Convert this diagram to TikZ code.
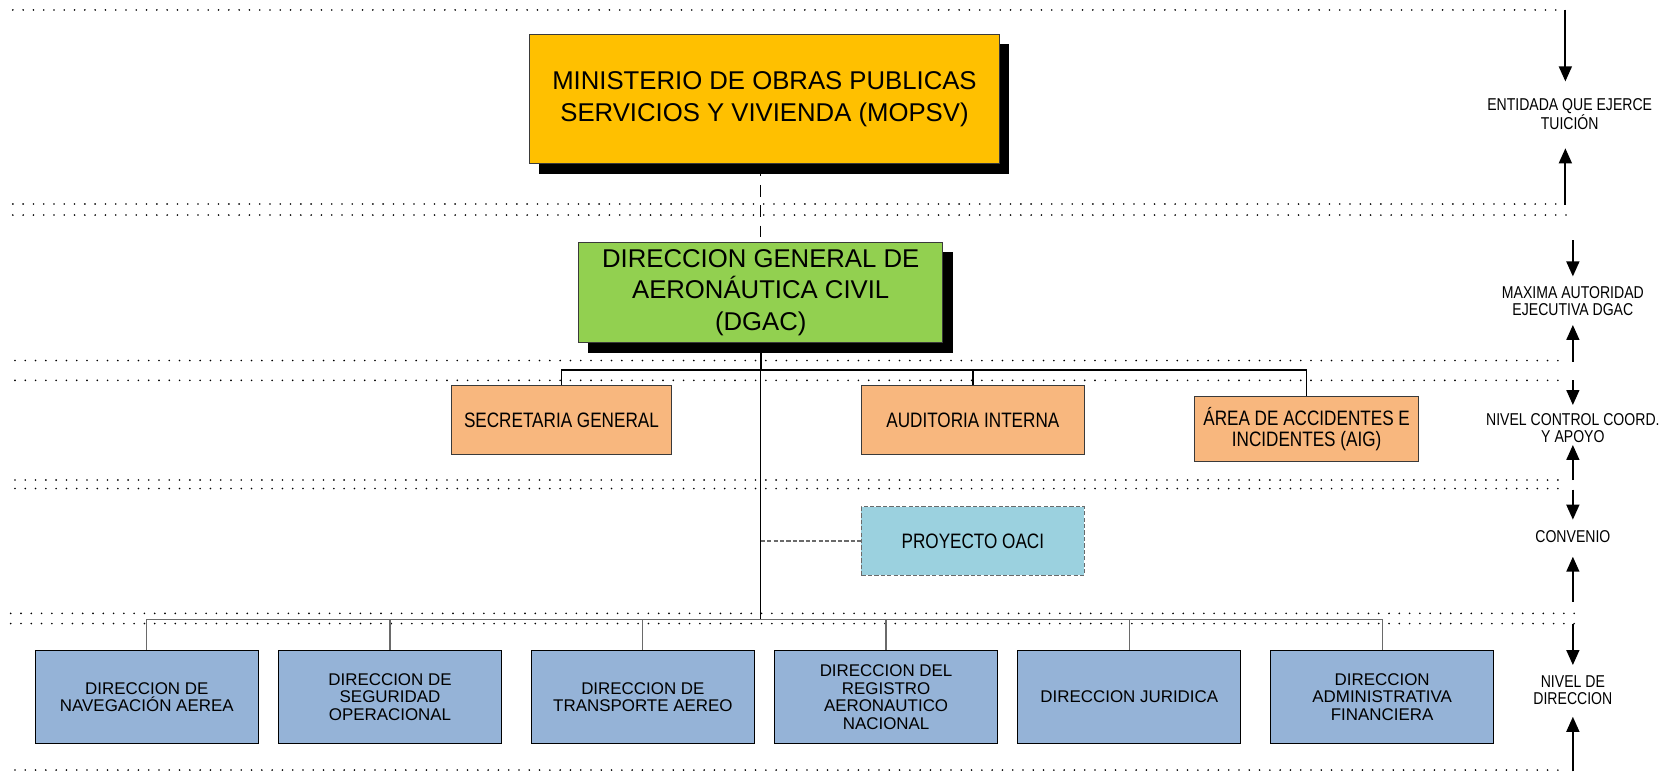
\documentclass[tikz,border=0pt]{standalone}
\usepackage{fontspec}
\setmainfont{Liberation Sans}
\newfontfamily\narrowfont[FakeStretch=0.82]{Liberation Sans}
\usetikzlibrary{arrows.meta,shadows,backgrounds}
\definecolor{mopc}{HTML}{FFC000}
\definecolor{dgacc}{HTML}{92D050}
\definecolor{orangec}{HTML}{F8B77E}
\definecolor{oacic}{HTML}{9BD1DF}
\definecolor{bluec}{HTML}{95B3D7}
\definecolor{edgec}{HTML}{3A3A3A}
\definecolor{connc}{HTML}{6A6A6A}
\tikzset{
  dotline/.style={line width=1.7pt, dash pattern=on 0pt off 9.6pt, line cap=round},
  bigbox/.style={draw=edgec, line width=1pt, align=center, inner sep=0pt,
    drop shadow={shadow xshift=9pt, shadow yshift=-9pt, fill=black, opacity=1},
    font=\fontsize{24pt}{29.5pt}\selectfont},
  midbox/.style={draw=edgec, line width=1pt, fill=orangec, align=center, inner sep=0pt,
    font=\narrowfont\fontsize{19.5pt}{20pt}\selectfont},
  oacibox/.style={draw=connc, line width=1pt, dash pattern=on 4pt off 2pt, fill=oacic, align=center, inner sep=0pt,
    font=\narrowfont\fontsize{19.5pt}{20pt}\selectfont},
  lowbox/.style={draw=black, line width=1.1pt, fill=bluec, align=center, inner sep=0pt,
    minimum width=208pt, minimum height=87pt,
    font=\fontsize{15.8pt}{16.4pt}\selectfont},
  levlabel/.style={align=center, inner sep=0pt, font=\narrowfont\fontsize{16pt}{15.6pt}\selectfont},
  levarrow/.style={line width=1.8pt, -{Triangle[width=12pt,length=14pt]}},
  topconn/.style={black, line width=1.6pt},
  mainconn/.style={black, line width=1.1pt},
  lowconn/.style={connc, line width=1.1pt},
  dashconn/.style={black, line width=1.4pt, dash pattern=on 11pt off 8pt},
  oaciconn/.style={connc, line width=1.2pt, dash pattern=on 4pt off 2pt}
}
\begin{document}
\begin{tikzpicture}[x=1pt,y=-1pt]
\useasboundingbox (0,0) rectangle (1568,720);

% dotted level lines
\draw[dotline] (12,9.3) -- (1453,9.3);
\draw[dotline] (12,190.4) -- (1453,190.4);
\draw[dotline] (12,200.7) -- (1468,200.7);
\draw[dotline] (14,336.5) -- (1461,336.5);
\draw[dotline] (14,355) -- (1461,355);
\draw[dotline] (14,448) -- (1459,448);
\draw[dotline] (14,456) -- (1459,456);
\draw[dotline] (10,572.5) -- (1471,572.5);
\draw[dotline] (10,582) -- (1471,582);
\draw[dotline] (14,718.7) -- (1460,718.7);

% boxes
\node[bigbox, fill=mopc, minimum width=439pt, minimum height=121pt] (mop) at (713.5,92.5)
  {MINISTERIO DE OBRAS PUBLICAS\\SERVICIOS Y VIVIENDA (MOPSV)};
\node[bigbox, fill=dgacc, minimum width=340pt, minimum height=94pt] (dgac) at (710,273)
  {DIRECCION GENERAL DE\\AERONÁUTICA CIVIL\\(DGAC)};

\node[midbox, minimum width=206pt, minimum height=64pt] (sec) at (524,392) {SECRETARIA GENERAL};
\node[midbox, minimum width=208pt, minimum height=64pt] (aud) at (908,392) {AUDITORIA INTERNA};
\node[midbox, minimum width=209pt, minimum height=61pt] (aig) at (1219.5,400.5) {ÁREA DE ACCIDENTES E\\INCIDENTES (AIG)};
\node[oacibox, minimum width=208pt, minimum height=64pt] (oaci) at (908,505) {PROYECTO OACI};

\node[lowbox] (d1) at (137,650.5) {DIRECCION DE\\NAVEGACIÓN AEREA};
\node[lowbox] (d2) at (364,650.5) {DIRECCION DE\\SEGURIDAD\\OPERACIONAL};
\node[lowbox] (d3) at (600,650.5) {DIRECCION DE\\TRANSPORTE AEREO};
\node[lowbox] (d4) at (827,650.5) {DIRECCION DEL\\REGISTRO\\AERONAUTICO\\NACIONAL};
\node[lowbox] (d5) at (1054,650.5) {DIRECCION JURIDICA};
\node[lowbox] (d6) at (1290,650.5) {DIRECCION\\ADMINISTRATIVA\\FINANCIERA};

% connectors
\begin{pgfonlayer}{background}
\fill[white] (0,0) rectangle (1568,720);
\draw[dashconn] (mop.south -| dgac.north) -- (dgac.north);
\end{pgfonlayer}
\coordinate (hub1) at (710,345);
\coordinate (hub2) at (710,578);
\coordinate (oj) at (710,505);
\draw[topconn] (dgac.south) -- (hub1);
\draw[topconn] (hub1) -| (sec.north);
\draw[topconn] (hub1) -| (aud.north);
\draw[topconn] (hub1) -| (aig.north);
\draw[mainconn] (hub1) -- (hub2);
\draw[oaciconn] (oj) -- (oaci.west);
\foreach \d in {d1,d2,d3,d4,d5,d6}{
  \draw[lowconn] (hub2) -| (\d.north);
}

% level labels and arrows
\node[levlabel] (l1) at (1465,106.3) {ENTIDADA QUE EJERCE\\TUICIÓN};
\node[levlabel] (l2) at (1468,280.8) {MAXIMA AUTORIDAD\\EJECUTIVA DGAC};
\node[levlabel] (l3) at (1468,399.8) {NIVEL CONTROL COORD.\\Y APOYO};
\node[levlabel] (l4) at (1468,501) {CONVENIO};
\node[levlabel] (l5) at (1468,644) {NIVEL DE\\DIRECCION};

\coordinate (a1s) at (1461,9);   \coordinate (a1e) at (1461,76);
\coordinate (a1u) at (1461,191); \coordinate (a1t) at (1461,138.4);
\coordinate (a2s) at (1468,224); \coordinate (a2e) at (1468,258);
\coordinate (a2u) at (1468,337.6); \coordinate (a2t) at (1468,303.3);
\coordinate (a3s) at (1468,355); \coordinate (a3e) at (1468,378);
\coordinate (a3u) at (1468,448); \coordinate (a3t) at (1468,415.3);
\coordinate (a4s) at (1468,457); \coordinate (a4e) at (1468,485);
\coordinate (a4u) at (1468,561.6); \coordinate (a4t) at (1468,519.6);
\coordinate (a5s) at (1468,582); \coordinate (a5e) at (1468,620.7);
\coordinate (a5u) at (1468,720); \coordinate (a5t) at (1468,669);
\foreach \i in {1,...,5}{
  \draw[levarrow] (a\i s) -- (a\i e);
  \draw[levarrow] (a\i u) -- (a\i t);
}
\end{tikzpicture}
\end{document}
